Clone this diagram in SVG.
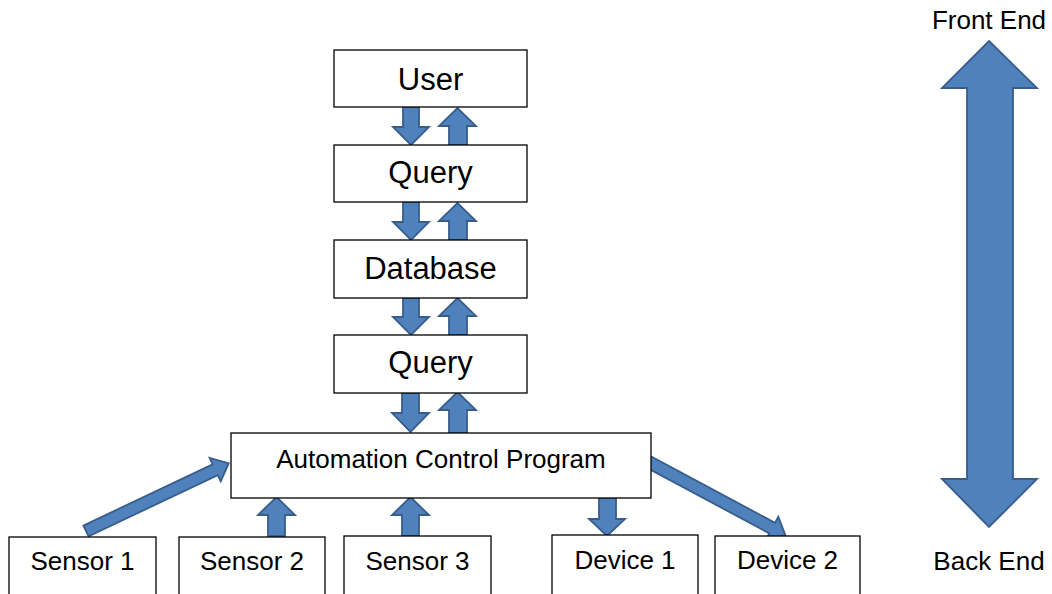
<svg xmlns="http://www.w3.org/2000/svg" width="1052" height="594" viewBox="0 0 1052 594">
<style>
.box{fill:#fff;stroke:#000;stroke-width:1.3}
.arr{fill:#4F81BD;stroke:#385D8A;stroke-width:1.8;stroke-linejoin:miter}
.big{font-family:"Liberation Sans",Arial,sans-serif;font-size:31px;fill:#000;text-anchor:middle}
.sm{font-family:"Liberation Sans",Arial,sans-serif;font-size:26px;fill:#000;text-anchor:middle}
</style>
<rect width="1052" height="594" fill="#fff"/>
<g id="connectors">
  <!-- User <-> Query -->
  <polygon class="arr" points="403,107 419,107 419,127 429,127 411,145 393,127 403,127"/>
  <polygon class="arr" points="449,145 467,145 467,126 476,126 457.5,108 439,126 449,126"/>
  <!-- Query <-> Database -->
  <polygon class="arr" points="403,202 419,202 419,222 429,222 411,240 393,222 403,222"/>
  <polygon class="arr" points="449,240 467,240 467,221 476,221 457.5,203 439,221 449,221"/>
  <!-- Database <-> Query -->
  <polygon class="arr" points="403,298 419,298 419,317 429,317 411,335 393,317 403,317"/>
  <polygon class="arr" points="449,335 467,335 467,316 476,316 457.5,298 439,316 449,316"/>
  <!-- Query <-> Automation -->
  <polygon class="arr" points="402,393 419,393 419,413 429,413 410.5,432 392,413 402,413"/>
  <polygon class="arr" points="449,433 467,433 467,410 476,410 457.5,392 439,410 449,410"/>
  <!-- Sensors up -->
  <polygon class="arr" points="268,536 285,536 285,515 295,515 276.5,497 258,515 268,515"/>
  <polygon class="arr" points="402,536 419,536 419,515 429,515 410.5,497 392,515 402,515"/>
  <!-- Device 1 down -->
  <polygon class="arr" points="599,498 616,498 616,519 625,519 607,536 589,519 599,519"/>
  <!-- Sensor 1 diagonal -->
  <g transform="translate(86,531) rotate(-25.4)">
    <polygon class="arr" points="0,-6 143,-6 143,-13 158,0 143,13 143,6 0,6"/>
  </g>
  <!-- Device 2 diagonal -->
  <g transform="translate(647,461) rotate(28.2)">
    <polygon class="arr" points="0,-6 142,-6 142,-13 157,0 142,13 142,6 0,6"/>
  </g>
  <!-- Front/Back end double arrow -->
  <polygon class="arr" points="989,41 1037,88 1013,88 1013,479 1037,479 989,527 942,479 967,479 967,88 942,88"/>
</g>
<g id="user"><rect class="box" x="334" y="50" width="193" height="57"/><text class="big" x="430.5" y="90">User</text></g>
<g id="query1"><rect class="box" x="334" y="145" width="193" height="57"/><text class="big" x="430.5" y="183">Query</text></g>
<g id="database"><rect class="box" x="334" y="240" width="193" height="58"/><text class="big" x="430.5" y="279">Database</text></g>
<g id="query2"><rect class="box" x="334" y="335" width="193" height="58"/><text class="big" x="430.5" y="373">Query</text></g>
<g id="automation"><rect class="box" x="231" y="433" width="420" height="65"/><text class="sm" x="441" y="468">Automation Control Program</text></g>
<g id="sensor1"><rect class="box" x="9" y="537" width="147" height="70"/><text class="sm" x="82.5" y="570">Sensor 1</text></g>
<g id="sensor2"><rect class="box" x="179" y="537" width="146" height="70"/><text class="sm" x="252" y="570">Sensor 2</text></g>
<g id="sensor3"><rect class="box" x="344" y="536" width="147" height="70"/><text class="sm" x="417.5" y="570">Sensor 3</text></g>
<g id="device1"><rect class="box" x="552" y="535" width="146" height="70"/><text class="sm" x="625" y="569">Device 1</text></g>
<g id="device2"><rect class="box" x="715" y="536" width="145" height="70"/><text class="sm" x="787.5" y="569">Device 2</text></g>
<g id="frontend"><text class="sm" x="989" y="29">Front End</text></g>
<g id="backend"><text class="sm" x="989" y="570">Back End</text></g>
</svg>
